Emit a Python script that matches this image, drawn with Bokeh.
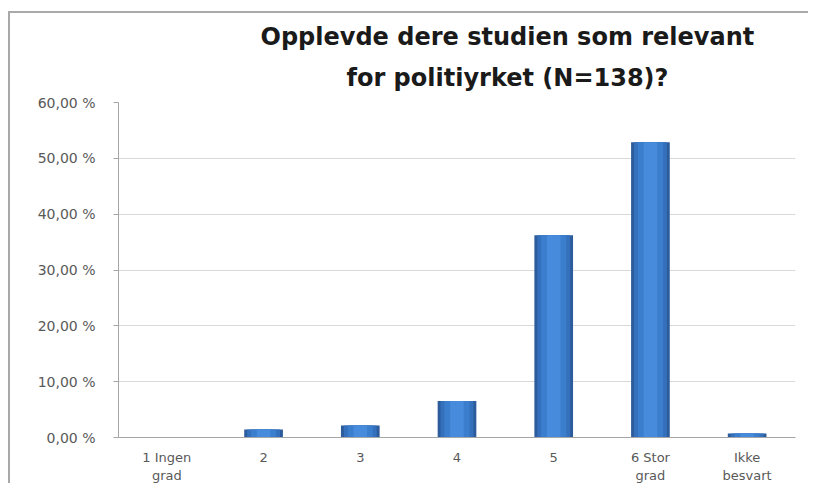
from bokeh.plotting import figure
from bokeh.models import Range1d, FixedTicker, Title, LinearAxis
from bokeh.embed import file_html
from bokeh.resources import INLINE

# ---- data ----
categories = ["1 Ingen grad", "2", "3", "4", "5", "6 Stor grad", "Ikke besvart"]
label_line1 = ["1 Ingen", "2", "3", "4", "5", "6 Stor", "Ikke"]
label_line2 = ["grad", "", "", "", "", "grad", "besvart"]
percent = [0.0, 1.45, 2.17, 6.52, 36.23, 52.90, 0.72]
y_ticks = [0, 10, 20, 30, 40, 50, 60]
y_tick_labels = ["0,00 %", "10,00 %", "20,00 %", "30,00 %", "40,00 %", "50,00 %", "60,00 %"]
title_lines = ["Opplevde dere studien som relevant", "for politiyrket (N=138)?"]

TXT = "#595959"
FONT = "DejaVu Sans"

n = len(categories)
x_pos = [i + 0.5 for i in range(n)]  # category slots on an index scale

p = figure(x_range=Range1d(0, n), y_range=Range1d(0, 60),
           width=800, height=472, output_backend="svg", toolbar_location=None,
           x_axis_location=None,
           min_border_left=108, min_border_right=15, min_border_top=89,
           min_border_bottom=45)
p.styles = {"border-left": "2px solid #a9a9a9", "border-top": "2px solid #a9a9a9",
            "margin-top": "11px", "margin-left": "8px"}

# titles (second line added first so it sits nearest the plot)
title_offsets = [142, 228]
title_standoffs = [0, 22]
for line, off, so in reversed(list(zip(title_lines, title_offsets, title_standoffs))):
    p.add_layout(Title(text=line, align="left", offset=off, text_font=FONT,
                       text_font_size="24px", text_font_style="bold",
                       text_color="#1a1a1a", standoff=so), "above")

# bars with a simple shaded look
shades = [(0.40, "#2c5c9c"), (0.34, "#3470bb"), (0.26, "#3b7ecd"), (0.14, "#478bdc")]
for w, c in shades:
    p.vbar(x=x_pos, top=percent, width=w, fill_color=c, line_color=None)

p.xgrid.grid_line_color = None
p.ygrid.grid_line_color = "#d9d9d9"
p.ygrid.grid_line_width = 1
p.outline_line_color = None
p.background_fill_color = "white"
p.border_fill_color = "white"

p.yaxis.ticker = FixedTicker(ticks=y_ticks)
p.yaxis.major_label_overrides = {t: l for t, l in zip(y_ticks, y_tick_labels)}
p.yaxis.minor_tick_line_color = None
p.yaxis.major_tick_in = 0
p.yaxis.major_tick_out = 5
p.yaxis.major_tick_line_color = "#a6a6a6"
p.yaxis.axis_line_color = "#a6a6a6"
p.yaxis.major_label_standoff = 18
p.yaxis.major_label_text_font = FONT
p.yaxis.major_label_text_font_size = "14px"
p.yaxis.major_label_text_color = TXT

# two-line category labels: one axis per text line
ax1 = LinearAxis(ticker=FixedTicker(ticks=x_pos),
                 major_label_overrides={pos: t for pos, t in zip(x_pos, label_line1)},
                 axis_line_color="#a6a6a6", major_tick_line_color=None,
                 minor_tick_line_color=None, major_tick_out=0, major_tick_in=0,
                 minor_tick_out=0, minor_tick_in=0,
                 major_label_standoff=12, major_label_text_font=FONT,
                 major_label_text_font_size="13px", major_label_text_color=TXT)
p.add_layout(ax1, "below")

l2_pos = [pos for pos, t in zip(x_pos, label_line2) if t]
l2_txt = [t for t in label_line2 if t]
ax2 = LinearAxis(ticker=FixedTicker(ticks=l2_pos),
                 major_label_overrides={pos: t for pos, t in zip(l2_pos, l2_txt)},
                 axis_line_color=None, major_tick_line_color=None,
                 minor_tick_line_color=None, major_tick_out=0, major_tick_in=0,
                 minor_tick_out=0, minor_tick_in=0,
                 major_label_standoff=0, major_label_text_font=FONT,
                 major_label_text_font_size="13px", major_label_text_color=TXT)
p.add_layout(ax2, "below")

open("out.html", "w").write(file_html(p, INLINE))
